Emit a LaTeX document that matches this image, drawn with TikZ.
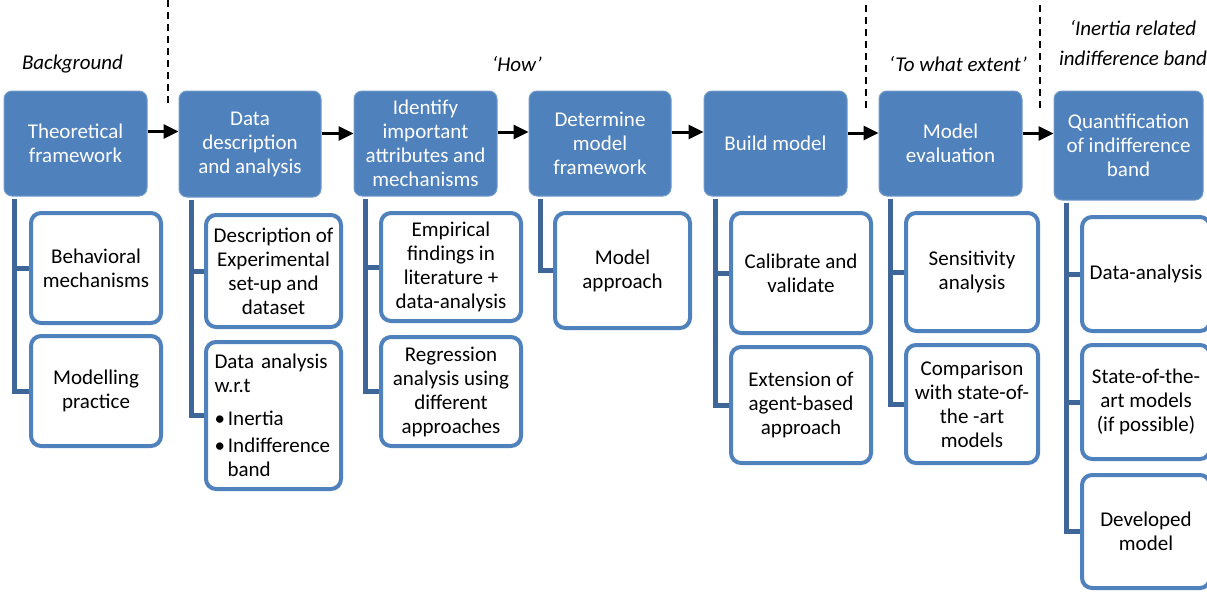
\documentclass[tikz,border=0pt]{standalone}
\usepackage{fontspec}
\setmainfont{Carlito}
\usetikzlibrary{arrows.meta}
\definecolor{headblue}{HTML}{4F81BD}
\definecolor{connblue}{HTML}{3F6699}
\begin{document}
\begin{tikzpicture}[x=1pt,y=-1pt,
  basefont/.style={font=\fontsize{21}{24}\selectfont},
  head/.style={basefont, rectangle, rounded corners=8pt, fill=headblue, draw=headblue!80!white, line width=1pt, text=white, align=center, inner sep=2pt},
  childbox/.style={basefont, rectangle, rounded corners=10pt, fill=white, draw=headblue, line width=4pt, align=center, inner sep=2pt, text=black},
  conn/.style={draw=connblue, line width=5pt},
  arr/.style={line width=3pt, -{Triangle[length=15pt,width=14pt]}},
  sep/.style={line width=2.5pt, dash pattern=on 7pt off 5pt},
  lbl/.style={font=\itshape\fontsize{21}{30}\selectfont, align=center, inner sep=0pt}]
\path[use as bounding box, clip] (0,0) rectangle (1207,592);
\fill[white] (0,0) rectangle (1207,592);

% top labels
\node[lbl] (lbg) at (72.5,64) {Background};
\node[lbl] (lhow) at (517,64) {‘How’};
\node[lbl] (lext) at (958,64) {‘To what extent’};
\node[lbl] (lin) at (1133,43) {‘Inertia related\\indifference band};

% dashed separators
\coordinate (d1a) at (168,0);   \coordinate (d1b) at (168,107);
\coordinate (d2a) at (866,5);   \coordinate (d2b) at (866,108);
\coordinate (d3a) at (1040,5);  \coordinate (d3b) at (1040,112);
\draw[sep] (d1a) -- (d1b);
\draw[sep] (d2a) -- (d2b);
\draw[sep] (d3a) -- (d3b);

% header boxes
\node[head, minimum width=143pt, minimum height=105pt] (h1) at (75.5,143.5) {Theoretical\\framework};
\node[head, minimum width=142pt, minimum height=106pt] (h2) at (250,144) {Data\\description\\and analysis};
\node[head, minimum width=143pt, minimum height=105pt] (h3) at (425.5,143.5) {Identify\\important\\attributes and\\mechanisms};
\node[head, minimum width=142pt, minimum height=105pt] (h4) at (600,143.5) {Determine\\model\\framework};
\node[head, minimum width=143pt, minimum height=105pt] (h5) at (775.5,143.5) {Build model};
\node[head, minimum width=143pt, minimum height=105pt] (h6) at (950.5,143.5) {Model\\evaluation};
\node[head, minimum width=149pt, minimum height=109pt] (h7) at (1128.5,145.5) {Quantification\\of indifference\\band};

% arrows
\draw[arr] ([yshift=12pt]h1.east) -- ([yshift=12pt]h1.east -| h2.west);
\draw[arr] ([yshift=10.5pt]h2.east) -- ([yshift=10.5pt]h2.east -| h3.west);
\draw[arr] ([yshift=11.5pt]h3.east) -- ([yshift=11.5pt]h3.east -| h4.west);
\draw[arr] ([yshift=11.5pt]h4.east) -- ([yshift=11.5pt]h4.east -| h5.west);
\draw[arr] ([yshift=10.5pt]h5.east) -- ([yshift=10.5pt]h5.east -| h6.west);
\draw[arr] ([yshift=10pt]h6.east) -- ([yshift=10pt]h6.east -| h7.west);

% child boxes
\node[childbox, minimum width=130pt, minimum height=110pt] (c11) at (96,268) {Behavioral\\mechanisms};
\node[childbox, minimum width=130pt, minimum height=110pt] (c12) at (96,391) {Modelling\\practice};

\node[childbox, minimum width=135pt, minimum height=112pt] (c21) at (273.5,271) {Description of\\Experimental\\set-up and\\dataset};
\node[childbox, minimum width=135pt, minimum height=147pt, text width=118pt, inner xsep=8.5pt, align=left] (c22) at (273.5,415.5) {Data analysis\\w.r.t\\[9pt]\textbullet\hspace{3pt}Inertia\\[3pt]\textbullet\hspace{3pt}Indifference\\\hspace*{13pt}band};

\node[childbox, minimum width=140pt, minimum height=108pt] (c31) at (451,267) {Empirical\\findings in\\literature +\\data-analysis};
\node[childbox, minimum width=140pt, minimum height=109pt] (c32) at (451,391.5) {Regression\\analysis using\\different\\approaches};

\node[childbox, minimum width=135pt, minimum height=115pt] (c41) at (622.5,270.5) {Model\\approach};

\node[childbox, minimum width=140pt, minimum height=120pt] (c51) at (801,273) {Calibrate and\\validate};
\node[childbox, minimum width=140pt, minimum height=116pt] (c52) at (801,405) {Extension of\\agent-based\\approach};

\node[childbox, minimum width=132pt, minimum height=118pt] (c61) at (972,272) {Sensitivity\\analysis};
\node[childbox, minimum width=132pt, minimum height=118pt] (c62) at (972,404) {Comparison\\with state-of-\\the -art\\models};

\node[childbox, minimum width=128pt, minimum height=114pt] (c71) at (1146,274) {Data-analysis};
\node[childbox, minimum width=128pt, minimum height=114pt] (c72) at (1146,402) {State-of-the-\\art models\\(if possible)};
\node[childbox, minimum width=128pt, minimum height=113pt] (c73) at (1146,531.5) {Developed\\model};

% connectors
\draw[conn] ([xshift=11pt,yshift=-2pt]h1.south west) |- (c11.west);
\draw[conn] ([xshift=11pt,yshift=-2pt]h1.south west) |- (c12.west);
\draw[conn] ([xshift=13pt,yshift=-2pt]h2.south west) |- (c21.west);
\draw[conn] ([xshift=13pt,yshift=-2pt]h2.south west) |- (c22.west);
\draw[conn] ([xshift=12pt,yshift=-2pt]h3.south west) |- (c31.west);
\draw[conn] ([xshift=12pt,yshift=-2pt]h3.south west) |- (c32.west);
\draw[conn] ([xshift=12pt,yshift=-2pt]h4.south west) |- (c41.west);
\draw[conn] ([xshift=12pt,yshift=-2pt]h5.south west) |- (c51.west);
\draw[conn] ([xshift=12pt,yshift=-2pt]h5.south west) |- (c52.west);
\draw[conn] ([xshift=12pt,yshift=-2pt]h6.south west) |- (c61.west);
\draw[conn] ([xshift=12pt,yshift=-2pt]h6.south west) |- (c62.west);
\draw[conn] ([xshift=13pt,yshift=-2pt]h7.south west) |- (c71.west);
\draw[conn] ([xshift=13pt,yshift=-2pt]h7.south west) |- (c72.west);
\draw[conn] ([xshift=13pt,yshift=-2pt]h7.south west) |- (c73.west);
\end{tikzpicture}
\end{document}
